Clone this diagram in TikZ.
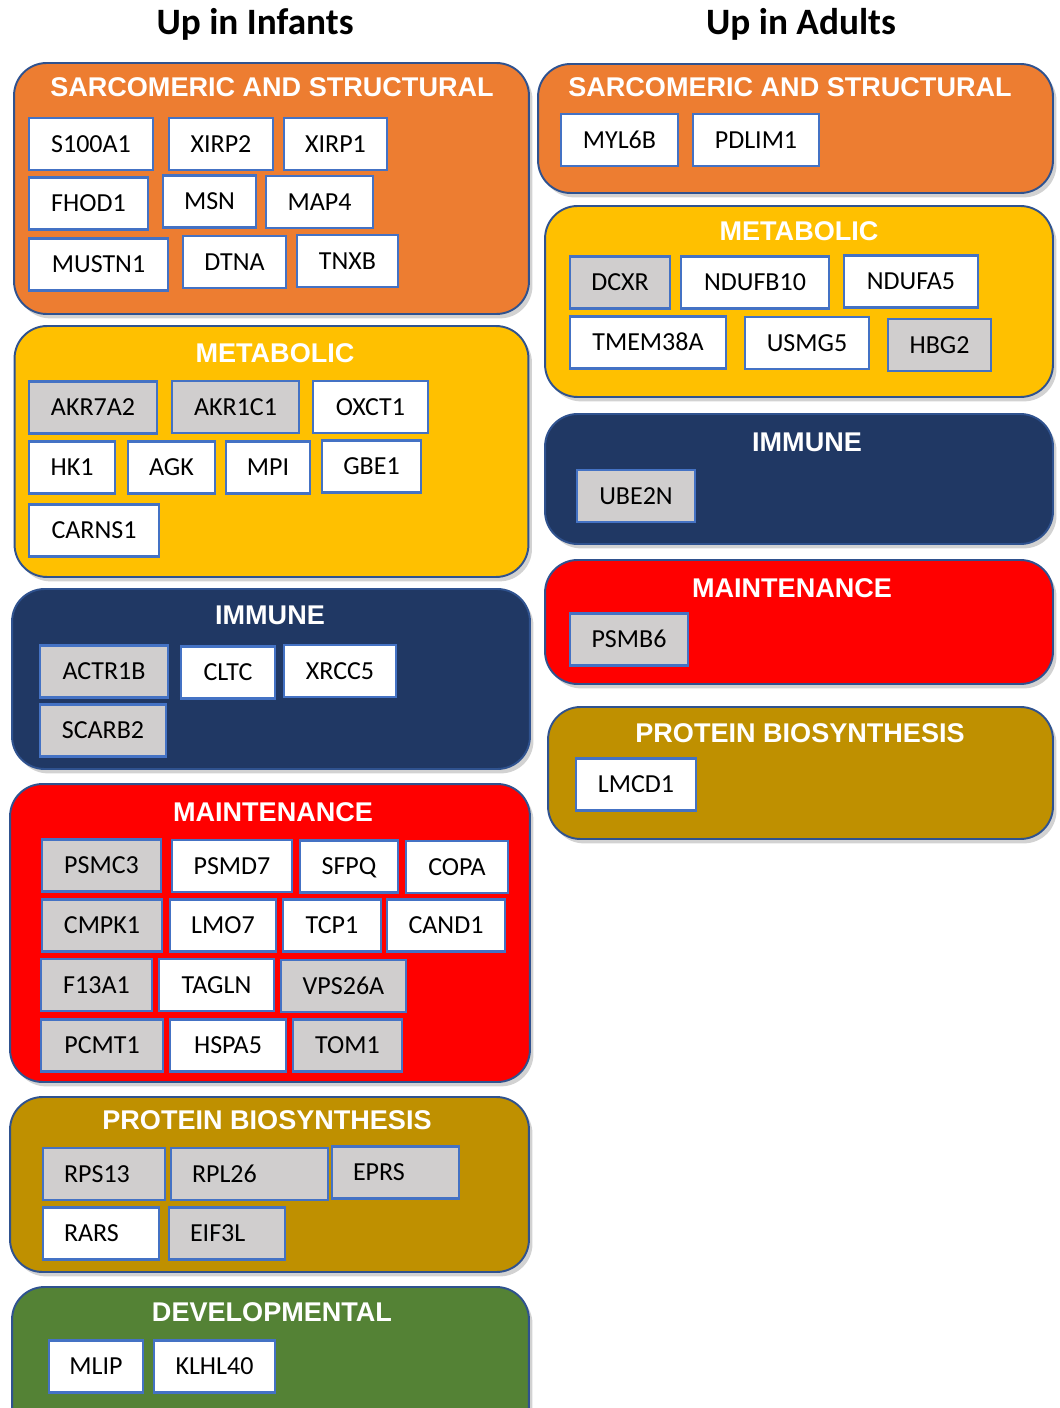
\documentclass[tikz,border=0pt]{standalone}
\usepackage{fontspec}
\usepackage{tikz}
\usetikzlibrary{shadows}
\newfontfamily\genefont{Carlito}
\newfontfamily\headfont{Liberation Sans}

\definecolor{sarcorange}{HTML}{ED7D31}
\definecolor{metayellow}{HTML}{FFC000}
\definecolor{immnavy}{HTML}{203864}
\definecolor{maintred}{HTML}{FF0000}
\definecolor{protgold}{HTML}{BF9000}
\definecolor{devgreen}{HTML}{548235}
\definecolor{genegrey}{HTML}{D0CECE}
\definecolor{genebd}{HTML}{4472C4}
\definecolor{groupbd}{HTML}{2F528F}

\begin{document}
\begin{tikzpicture}[x=0.02cm, y=-0.02cm,
			groupbox/.style={draw=groupbd, line width=1.1pt, rounded corners=0.65cm, inner sep=0pt,
				drop shadow={shadow xshift=2pt, shadow yshift=-2.5pt, opacity=0.35}},
			headtext/.style={text=white, font=\headfont\bfseries\fontsize{15.4}{18}\selectfont, text height=11pt, text depth=0pt, inner sep=0pt},
			coltitle/.style={font=\genefont\bfseries\fontsize{21.2}{25}\selectfont, inner sep=0pt},
			genebox/.style={draw=genebd, line width=1.5pt, fill=white, minimum height=1.04cm, inner sep=0pt,
				font=\genefont\fontsize{14.8}{17}\selectfont, text height=9.5pt, text depth=0pt},
			greybox/.style={genebox, fill=genegrey},
			leftbox/.style={greybox, inner xsep=0.42cm, align=left}
		]

		\fill[white] (0,0) rectangle (1060,1408);
		\useasboundingbox (0,0) rectangle (1060,1408);

		\node[coltitle] (infants) at (255,24) {Up in Infants};
		\node[coltitle] (adults) at (801,24) {Up in Adults};

		% up in infants
		\node[groupbox, fill=sarcorange, minimum width=10.30cm, minimum height=5.02cm] (infsarc) at (271.5,188.5) {};
		\node[groupbox, fill=metayellow, minimum width=10.28cm, minimum height=5.02cm] (infmeta) at (271.5,451.5) {};
		\node[groupbox, fill=immnavy, minimum width=10.36cm, minimum height=3.60cm] (infimm) at (271,679) {};
		\node[groupbox, fill=maintred, minimum width=10.40cm, minimum height=5.96cm] (infmaint) at (270,933) {};
		\node[groupbox, fill=protgold, minimum width=10.38cm, minimum height=3.50cm] (infprot) at (269.5,1184.5) {};
		\node[groupbox, fill=devgreen, minimum width=10.34cm, minimum height=3.06cm] (infdev) at (270.5,1363.5) {};

		\node[headtext] (infsarct) at (272,87) {SARCOMERIC AND STRUCTURAL};
		\node[headtext] (infmetat) at (275,353) {METABOLIC};
		\node[headtext] (infimmt) at (270,615) {IMMUNE};
		\node[headtext] (infmaintt) at (273,812) {MAINTENANCE};
		\node[headtext] (infprott) at (267,1120) {PROTEIN BIOSYNTHESIS};
		\node[headtext] (infdevt) at (272,1312) {DEVELOPMENTAL};

		\node[genebox, minimum width=2.48cm] (s100a1) at (91,144) {S100A1};
		\node[genebox, minimum width=2.08cm] (xirp2) at (221,144) {XIRP2};
		\node[genebox, minimum width=2.06cm] (xirp1) at (335.5,144) {XIRP1};
		\node[genebox, minimum width=2.38cm] (fhod1) at (88.5,203.5) {FHOD1};
		\node[genebox, minimum width=1.86cm] (msn) at (209.5,201.5) {MSN};
		\node[genebox, minimum width=2.14cm] (map4) at (319.5,202) {MAP4};
		\node[genebox, minimum width=2.78cm] (mustn1) at (98.5,264.5) {MUSTN1};
		\node[genebox, minimum width=2.06cm] (dtna) at (234.5,262) {DTNA};
		\node[genebox, minimum width=2.02cm] (tnxb) at (347.5,261) {TNXB};

		\node[greybox, minimum width=2.56cm] (akr7a2) at (93,407.5) {AKR7A2};
		\node[greybox, minimum width=2.54cm] (akr1c1) at (235.5,407) {AKR1C1};
		\node[genebox, minimum width=2.30cm] (oxct1) at (370.5,407) {OXCT1};
		\node[genebox, minimum width=1.72cm] (hk1) at (72,467.5) {HK1};
		\node[genebox, minimum width=1.74cm] (agk) at (171.5,467.5) {AGK};
		\node[genebox, minimum width=1.68cm] (mpi) at (268,467.5) {MPI};
		\node[genebox, minimum width=1.98cm] (gbe1) at (371.5,466.5) {GBE1};
		\node[genebox, minimum width=2.60cm] (carns1) at (94,530.5) {CARNS1};

		\node[greybox, minimum width=2.56cm] (actr1b) at (104,671.5) {ACTR1B};
		\node[genebox, minimum width=1.88cm] (cltc) at (228,672.5) {CLTC};
		\node[genebox, minimum width=2.24cm] (xrcc5) at (340,671) {XRCC5};
		\node[greybox, minimum width=2.52cm] (scarb2) at (103,730.5) {SCARB2};

		\node[greybox, minimum width=2.38cm] (psmc3) at (101.5,865.5) {PSMC3};
		\node[genebox, minimum width=2.40cm] (psmd7) at (232,866) {PSMD7};
		\node[genebox, minimum width=1.96cm] (sfpq) at (349,866.5) {SFPQ};
		\node[genebox, minimum width=2.04cm] (copa) at (457,867) {COPA};
		\node[greybox, minimum width=2.40cm] (cmpk1) at (102,925.5) {CMPK1};
		\node[genebox, minimum width=2.12cm] (lmo7) at (223,925.5) {LMO7};
		\node[genebox, minimum width=1.96cm] (tcp1) at (332,925.5) {TCP1};
		\node[genebox, minimum width=2.36cm] (cand1) at (446,925.5) {CAND1};
		\node[greybox, minimum width=2.22cm] (f13a1) at (96.5,985) {F13A1};
		\node[genebox, minimum width=2.30cm] (tagln) at (216.5,985) {TAGLN};
		\node[greybox, minimum width=2.50cm] (vps26a) at (343.5,986) {VPS26A};
		\node[greybox, minimum width=2.44cm] (pcmt1) at (102,1045.5) {PCMT1};
		\node[genebox, minimum width=2.32cm] (hspa5) at (228,1045.5) {HSPA5};
		\node[greybox, minimum width=2.18cm] (tom1) at (347.5,1045.5) {TOM1};

		\node[leftbox, text width=1.60cm] (rps13) at (104,1174) {RPS13};
		\node[leftbox, text width=2.30cm] (rpl26) at (249.5,1174) {RPL26};
		\node[leftbox, text width=1.70cm] (eprs) at (395.5,1172.5) {EPRS};
		\node[leftbox, fill=white, text width=1.48cm] (rars) at (101,1233.5) {RARS};
		\node[leftbox, text width=1.48cm] (eif3l) at (227,1233.5) {EIF3L};

		\node[genebox, minimum width=1.88cm] (mlip) at (96,1366.5) {MLIP};
		\node[genebox, minimum width=2.42cm] (klhl40) at (214.5,1366.5) {KLHL40};

		% up in adults
		\node[groupbox, fill=sarcorange, minimum width=10.30cm, minimum height=2.58cm] (adsarc) at (795.5,128.5) {};
		\node[groupbox, fill=metayellow, minimum width=10.16cm, minimum height=3.82cm] (admeta) at (799,301.5) {};
		\node[groupbox, fill=immnavy, minimum width=10.16cm, minimum height=2.60cm] (adimm) at (799,479) {};
		\node[groupbox, fill=maintred, minimum width=10.16cm, minimum height=2.48cm] (admaint) at (799,622) {};
		\node[groupbox, fill=protgold, minimum width=10.10cm, minimum height=2.64cm] (adprot) at (800.5,773) {};

		\node[headtext] (adsarct) at (790,87) {SARCOMERIC AND STRUCTURAL};
		\node[headtext] (admetat) at (799,231) {METABOLIC};
		\node[headtext] (adimmt) at (807,442) {IMMUNE};
		\node[headtext] (admaintt) at (792,588) {MAINTENANCE};
		\node[headtext] (adprott) at (800,733) {PROTEIN BIOSYNTHESIS};

		\node[genebox, minimum width=2.34cm] (myl6b) at (619.5,140) {MYL6B};
		\node[genebox, minimum width=2.52cm] (pdlim1) at (756,140) {PDLIM1};

		\node[greybox, minimum width=2.00cm] (dcxr) at (620,282.5) {DCXR};
		\node[genebox, minimum width=2.96cm] (ndufb10) at (755,282.5) {NDUFB10};
		\node[genebox, minimum width=2.68cm] (ndufa5) at (911,281.5) {NDUFA5};
		\node[genebox, minimum width=3.12cm] (tmem38a) at (648,342.5) {TMEM38A};
		\node[genebox, minimum width=2.48cm] (usmg5) at (807,343) {USMG5};
		\node[greybox, minimum width=2.06cm] (hbg2) at (939.5,345) {HBG2};

		\node[greybox, minimum width=2.36cm] (ube2n) at (636,496) {UBE2N};
		\node[greybox, minimum width=2.36cm] (psmb6) at (629,639.5) {PSMB6};
		\node[genebox, minimum width=2.40cm] (lmcd1) at (636,784.5) {LMCD1};

	\end{tikzpicture}
\end{document}
